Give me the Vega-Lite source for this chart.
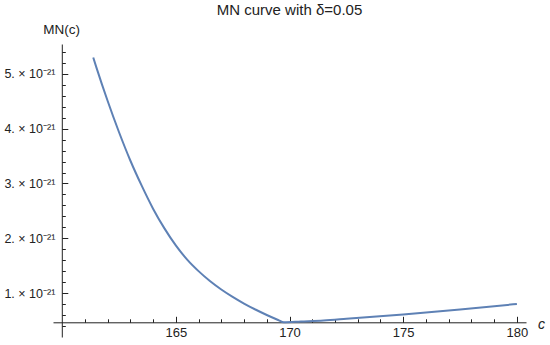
{
  "$schema": "https://vega.github.io/schema/vega-lite/v6.json",
  "width": 473,
  "height": 293,
  "autosize": "none",
  "padding": {"left": 53, "top": 44, "right": 24, "bottom": 8},
  "background": "white",
  "title": {
    "text": "MN curve with δ=0.05",
    "font": "Liberation Sans",
    "fontSize": 15,
    "fontWeight": "normal",
    "color": "#222",
    "anchor": "middle",
    "offset": 4
  },
  "data": {
    "values": [
      {"c": 161.37, "mn": 5.30e-21},
      {"c": 161.5, "mn": 5.13e-21},
      {"c": 162.0, "mn": 4.51e-21},
      {"c": 162.5, "mn": 3.94e-21},
      {"c": 163.0, "mn": 3.42e-21},
      {"c": 163.5, "mn": 2.96e-21},
      {"c": 164.0, "mn": 2.54e-21},
      {"c": 164.5, "mn": 2.18e-21},
      {"c": 165.0, "mn": 1.87e-21},
      {"c": 165.5, "mn": 1.61e-21},
      {"c": 166.0, "mn": 1.40e-21},
      {"c": 166.5, "mn": 1.22e-21},
      {"c": 167.0, "mn": 1.065e-21},
      {"c": 167.5, "mn": 0.93e-21},
      {"c": 168.0, "mn": 0.808e-21},
      {"c": 168.5, "mn": 0.699e-21},
      {"c": 169.0, "mn": 0.599e-21},
      {"c": 169.5, "mn": 0.508e-21},
      {"c": 169.75, "mn": 0.465e-21},
      {"c": 170.5, "mn": 0.48e-21},
      {"c": 171.5, "mn": 0.50e-21},
      {"c": 172.5, "mn": 0.53e-21},
      {"c": 175.0, "mn": 0.61e-21},
      {"c": 177.5, "mn": 0.70e-21},
      {"c": 180.0, "mn": 0.80e-21}
    ]
  },
  "mark": {"type": "line", "color": "#5E81B5", "strokeWidth": 2, "interpolate": "monotone"},
  "encoding": {
    "x": {
      "field": "c",
      "type": "quantitative",
      "scale": {"domain": [159.6, 180.4], "nice": false, "zero": false},
      "axis": {
        "values": [161,162,163,164,165,166,167,168,169,170,171,172,173,174,175,176,177,178,179,180],
        "offset": -14.7,
        "grid": false,
        "domainColor": "#222",
        "domainWidth": 1,
        "tickColor": "#222",
        "tickSize": {"condition": {"test": "datum.value % 5 === 0", "value": -6}, "value": -3.5},
        "labelExpr": "datum.value % 5 === 0 ? datum.label : ''",
        "labelFont": "Liberation Sans",
        "labelFontSize": 13,
        "labelColor": "#222",
        "labelPadding": 10,
        "labelOverlap": false,
        "labelFlush": false,
        "title": "c",
        "titleFont": "Liberation Sans",
        "titleFontSize": 14,
        "titleFontStyle": "italic",
        "titleFontWeight": "normal",
        "titleColor": "#222",
        "titleX": 488,
        "titleY": 6,
        "titleAlign": "center",
        "titleBaseline": "alphabetic"
      }
    },
    "y": {
      "field": "mn",
      "type": "quantitative",
      "scale": {"domain": [0.197e-21, 5.547e-21], "nice": false, "zero": false},
      "axis": {
        "values": [0.4e-21,0.6e-21,0.8e-21,1e-21,1.2e-21,1.4e-21,1.6e-21,1.8e-21,2e-21,2.2e-21,2.4e-21,2.6e-21,2.8e-21,3e-21,3.2e-21,3.4e-21,3.6e-21,3.8e-21,4e-21,4.2e-21,4.4e-21,4.6e-21,4.8e-21,5e-21,5.2e-21,5.4e-21],
        "offset": -8.8,
        "grid": false,
        "domainColor": "#222",
        "domainWidth": 1,
        "tickColor": "#222",
        "tickSize": {"condition": {"test": "abs(datum.value*1e21 - round(datum.value*1e21)) < 0.01", "value": -6}, "value": -3.5},
        "labelExpr": "abs(datum.value*1e21 - round(datum.value*1e21)) < 0.01 ? format(round(datum.value*1e21), 'd') + '. × 10⁻²¹' : ''",
        "labelFont": "Liberation Sans",
        "labelFontSize": 12.5,
        "labelColor": "#222",
        "labelPadding": 13,
        "labelOverlap": false,
        "labelFlush": false,
        "title": "MN(c)",
        "titleFont": "Liberation Sans",
        "titleFontSize": 13.5,
        "titleFontWeight": "normal",
        "titleColor": "#222",
        "titleAngle": 0,
        "titleX": -19,
        "titleY": -11,
        "titleAlign": "left",
        "titleBaseline": "alphabetic"
      }
    }
  },
  "config": {"view": {"stroke": null}}
}
